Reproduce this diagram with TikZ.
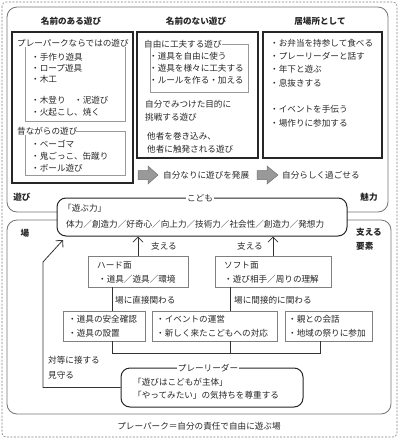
\documentclass[tikz,border=0pt]{standalone}
\usepackage{fontspec}
\setmainfont{Noto Sans CJK JP}
\usetikzlibrary{arrows.meta,fit}

\begin{document}
\begin{tikzpicture}[x=1pt,y=-1pt,
  font=\fontsize{8.6}{10}\selectfont,
  txt/.style={inner sep=0pt, anchor=west, text=black!85},
  hd/.style={inner sep=0pt, font=\fontsize{8.6}{10}\selectfont\bfseries, text=black!85},
  outerbox/.style={draw=black!55, line width=0.8pt, rounded corners=10pt, inner sep=0pt},
  colbox/.style={draw=black!85, line width=1.2pt, inner sep=0pt},
  subbox/.style={draw=black!40, line width=0.8pt, inner sep=0pt},
  graybox/.style={draw=black!50, line width=0.8pt, inner sep=0pt, fill=white},
  mainbox/.style={draw=black!85, line width=1pt, rounded corners=9pt, inner sep=0pt, fill=white},
  lbl/.style={inner sep=1.2pt, fill=white, text=black!85},
  conn/.style={draw=black!80, line width=0.8pt},
  sarrow/.style={conn, -{Straight Barb[length=5pt,width=10pt]}},
  blockarrow/.style={fill=black!40, draw=black!55, line width=0.5pt}
]
\useasboundingbox (0,0) rectangle (400,440);

% outer dashed border
\draw[draw=black!50, line width=0.6pt, dash pattern=on 2pt off 1.5pt, rounded corners=4pt] (2,2) rectangle (397,437);

% outer rounded areas
\node[outerbox, fit={(7,7) (388,212)}] (top) {};
\node[outerbox, fit={(7,220) (391,414)}] (bottom) {};

% headers
\node[hd] (h1) at (71,21) {名前のある遊び};
\node[hd] (h2) at (196,21) {名前のない遊び};
\node[hd] (h3) at (320,21) {居場所として};

% column boxes
\node[colbox, fit={(12,32) (133,183)}] (col1) {};
\node[colbox, fit={(137,32) (258,158)}] (col2) {};
\node[colbox, fit={(263,32) (382,158)}] (col3) {};

% column 1
\node[subbox, fit={(25,43) (125,121)}] (s1a) {};
\node[txt, fill=white] (t1a) at (17,43) {プレーパークならではの遊び};
\node[txt] (i1) at (31,57) {・手作り遊具};
\node[txt] (i2) at (31,68) {・ロープ遊具};
\node[txt] (i3) at (31,79) {・木工};
\node[txt] (i4) at (31,100) {・木登り　・泥遊び};
\node[txt] (i5) at (31,112) {・火起こし、焼く};
\node[subbox, fit={(25,131) (125,175)}] (s1b) {};
\node[txt, fill=white] (t1b) at (17,131) {昔ながらの遊び};
\node[txt] (i6) at (31,144) {・ベーゴマ};
\node[txt] (i7) at (31,156) {・鬼ごっこ、缶蹴り};
\node[txt] (i8) at (31,168) {・ボール遊び};

% column 2
\node[subbox, fit={(150,44) (248,92)}] (s2a) {};
\node[txt, fill=white] (t2a) at (144,44) {自由に工夫する遊び};
\node[txt] (j1) at (149,56) {・道具を自由に使う};
\node[txt] (j2) at (149,68) {・遊具を様々に工夫する};
\node[txt] (j3) at (149,80) {・ルールを作る・加える};
\node[txt] (j4) at (145,104) {自分でみつけた目的に};
\node[txt] (j5) at (145,117) {挑戦する遊び};
\node[txt] (j6) at (147,136) {他者を巻き込み、};
\node[txt] (j7) at (147,149) {他者に触発される遊び};

% column 3
\node[txt] (k1) at (270,43) {・お弁当を持参して食べる};
\node[txt] (k2) at (270,56) {・プレーリーダーと話す};
\node[txt] (k3) at (270,69) {・年下と遊ぶ};
\node[txt] (k4) at (270,83) {・息抜きする};
\node[txt] (k5) at (270,109) {・イベントを手伝う};
\node[txt] (k6) at (270,123) {・場作りに参加する};

% block arrows
\draw[blockarrow] (138,170.5) -- (148,170.5) -- (148,166) -- (158,175) -- (148,184) -- (148,179.5) -- (138,179.5) -- cycle;
\node[txt] (dev) at (163,175) {自分なりに遊びを発展};
\draw[blockarrow] (257,170.5) -- (267,170.5) -- (267,166) -- (278,175) -- (267,184) -- (267,179.5) -- (257,179.5) -- cycle;
\node[txt] (self) at (282,175) {自分らしく過ごせる};

% area labels
\node[hd] (asobi) at (22,197) {遊び};
\node[hd] (miryoku) at (369,197) {魅力};
\node[hd] (ba) at (25,233) {場};
\node[hd, anchor=west] (sasa) at (356,232) {支える};
\node[hd, anchor=west] (yoso) at (356,246) {要素};

% kodomo
\node[mainbox, fit={(57,198) (347,236)}] (kodomo) {};
\node[lbl] (kodomolbl) at (200,198) {こども};
\node[txt] (power) at (63,208) {「遊ぶ力」};
\node[txt] (powers) at (66,224) {体力／創造力／好奇心／向上力／技術力／社会性／創造力／発想力};

% hard / soft
\node[graybox, fit={(88,256) (188,287)}] (hard) {};
\node[txt] (hardt) at (97,266) {ハード面};
\node[txt] (hardi) at (98,279) {・道具／遊具／環境};
\node[graybox, fit={(215,256) (331,287)}] (soft) {};
\node[txt] (softt) at (224,266) {ソフト面};
\node[txt] (softi) at (224,279) {・遊び相手／周りの理解};

\draw[sarrow] (hard.north) -- (hard.north |- kodomo.south);
\node[txt] (sup1) at (151,246) {支える};
\draw[sarrow] (soft.north) -- (soft.north |- kodomo.south);
\node[txt] (sup2) at (237,246) {支える};

% direct / indirect
\node[txt] (direct) at (115,300) {場に直接関わる};
\node[txt] (indirect) at (234,300) {場に間接的に関わる};

\coordinate (xh) at (112,0);
\coordinate (xs) at (230,0);
\coordinate (xc) at (320,0);
\coordinate (ybr) at (0,353);
\draw[conn] (xh |- hard.south) -- (xh |- 0,311);
\draw[conn] (xs |- soft.south) -- (xs |- 0,311);

% three boxes
\node[graybox, fit={(63,311) (145,341)}] (boxA) {};
\node[txt] (a1) at (68,319) {・道具の安全確認};
\node[txt] (a2) at (68,333) {・遊具の設置};
\node[graybox, fit={(152,311) (277,341)}] (boxB) {};
\node[txt] (b1) at (156,319) {・イベントの運営};
\node[txt] (b2) at (156,333) {・新しく来たこどもへの対応};
\node[graybox, fit={(285,311) (372,341)}] (boxC) {};
\node[txt] (c1) at (288,319) {・親との会話};
\node[txt] (c2) at (288,333) {・地域の祭りに参加};

\draw[conn] (xh |- boxA.south) -- (xh |- ybr) -- (xc |- ybr) -- (xc |- boxC.south);
\draw[conn] (xs |- boxB.south) -- (xs |- ybr);

% play leader
\node[mainbox, fit={(121,368) (303,407)}] (leader) {};
\node[lbl] (leaderlbl) at (208,368) {プレーリーダー};
\node[txt] (l1) at (133,382) {「遊びはこどもが主体」};
\node[txt] (l2) at (133,395) {「やってみたい」の気持ちを尊重する};

\node[txt] (eq1) at (48,360) {対等に接する};
\node[txt] (eq2) at (48,375) {見守る};

\coordinate (xl) at (43,0);
\coordinate (bend) at (43,262);
\coordinate (tip) at (63,240);
\draw[sarrow] (leader.west) -- (xl |- leader.west) -- (bend) -- (tip);

% caption
\node[text=black!85, inner sep=0pt] (caption) at (199,426) {プレーパーク＝自分の責任で自由に遊ぶ場};
\end{tikzpicture}
\end{document}
